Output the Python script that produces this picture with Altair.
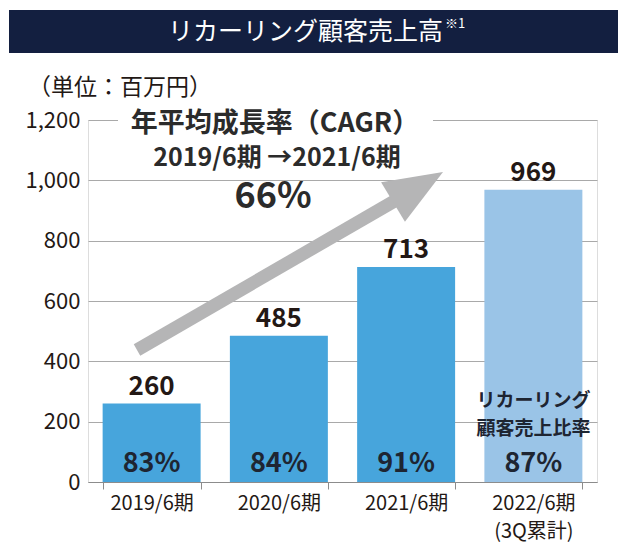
import altair as alt
import pandas as pd

# ---- data ----
periods = ["2019/6期", "2020/6期", "2021/6期", "2022/6期\n(3Q累計)"]
revenue = [260, 485, 713, 969]
ratio = ["83%", "84%", "91%", "87%"]
bar_colors = ["#47A5DC", "#47A5DC", "#47A5DC", "#9AC4E7"]
y_ticks = [0, 200, 400, 600, 800, 1000, 1200]

title_text = "リカーリング顧客売上高"
title_note = "※1"
unit_text = "（単位：百万円）"
cagr_lines = ["年平均成長率（CAGR）", "2019/6期 →2021/6期", "66%"]
ratio_caption = ["リカーリング", "顧客売上比率"]

df = pd.DataFrame({"period": periods, "revenue": revenue, "ratio": ratio, "color": bar_colors})
one = pd.DataFrame({"a": [0]})

NARROW = "Noto Sans CJK JP"
JP = "Noto Sans CJK JP"
TXT = "#231815"
DARK = "#1E2532"
GRID = "#A9A9A9"
ARROW = "#B5B5B6"
W, H = 509, 362

x_enc = alt.X(
    "period:N", sort=periods,
    scale=alt.Scale(paddingInner=0.23, paddingOuter=0.115),
    axis=alt.Axis(title=None, labelAngle=0, tickBand="extent",
                  labelExpr="split(datum.label, '\\n')",
                  labelFont=NARROW, labelFontSize=20, labelColor=TXT,
                  labelLineHeight=28, labelPadding=4,
                  tickSize=7, tickColor="#8C8C8C", domainColor="#8C8C8C"),
)
y_enc = alt.Y(
    "revenue:Q",
    scale=alt.Scale(domain=[0, 1200], nice=False),
    axis=alt.Axis(title=None, values=y_ticks, format=",d", domain=False, ticks=False,
                  labelPadding=8, labelFont=NARROW, labelFontSize=22, labelColor=TXT,
                  grid=True, gridColor=GRID, gridWidth=1),
)

base = alt.Chart(df)
bars = base.mark_bar().encode(x=x_enc, y=y_enc, color=alt.Color("color:N", scale=None))
vals = base.mark_text(baseline="bottom", dy=-4, font=NARROW, fontWeight="bold",
                      fontSize=26, color=TXT).encode(
    x=alt.X("period:N", sort=periods), y="revenue:Q", text="revenue:Q")
pcts = base.mark_text(baseline="alphabetic", dy=-10, font=NARROW, fontWeight="bold",
                      fontSize=27, color=DARK).encode(
    x=alt.X("period:N", sort=periods), y=alt.datum(0), text="ratio:N")

cap1 = alt.Chart(one).mark_text(baseline="middle", font=JP, fontWeight="bold",
                                fontSize=19, color=DARK).encode(
    x=alt.X(datum=periods[3]), y=alt.value(281), text=alt.value(ratio_caption[0]))
cap2 = alt.Chart(one).mark_text(baseline="middle", font=JP, fontWeight="bold",
                                fontSize=19, color=DARK).encode(
    x=alt.X(datum=periods[3]), y=alt.value(309), text=alt.value(ratio_caption[1]))

# arrow
shaft = alt.Chart(one).mark_rule(color=ARROW, strokeWidth=13, strokeCap="butt").encode(
    x=alt.value(49), y=alt.value(230), x2=alt.value(310), y2=alt.value(79))
head = alt.Chart(one).mark_point(shape="M0,-1L0.794,1L-0.794,1Z", filled=True, size=3400,
                                 angle=59, color=ARROW, opacity=1, strokeWidth=0).encode(
    x=alt.value(330), y=alt.value(67))

# white backing behind the CAGR heading
wbox = alt.Chart(one).mark_rect(color="white").encode(
    x=alt.value(30), x2=alt.value(345), y=alt.value(-8), y2=alt.value(8))

c1 = alt.Chart(one).mark_text(baseline="middle", font=JP, fontWeight="bold", fontSize=27,
                              color="#2B2B2B").encode(
    x=alt.value(187), y=alt.value(4), text=alt.value(cagr_lines[0]))
c2 = alt.Chart(one).mark_text(baseline="middle", font=JP, fontWeight="bold", fontSize=25,
                              color="#2B2B2B").encode(
    x=alt.value(189), y=alt.value(38), text=alt.value(cagr_lines[1]))
c3 = alt.Chart(one).mark_text(baseline="middle", font=JP, fontWeight="bold", fontSize=36,
                              color="#2B2B2B").encode(
    x=alt.value(185), y=alt.value(77), text=alt.value(cagr_lines[2]))

# title banner
banner = alt.Chart(one).mark_rect(color="#131F40").encode(
    x=alt.value(-79), x2=alt.value(530), y=alt.value(-110), y2=alt.value(-67))
t_main = alt.Chart(one).mark_text(align="right", baseline="middle", font=JP, fontSize=25,
                                  color="white").encode(
    x=alt.value(355), y=alt.value(-88), text=alt.value(title_text))
t_note = alt.Chart(one).mark_text(align="left", baseline="middle", font=JP, fontSize=13,
                                  color="white").encode(
    x=alt.value(357), y=alt.value(-96), text=alt.value(title_note))
unit = alt.Chart(one).mark_text(align="left", baseline="middle", font=JP, fontSize=23,
                                color=TXT).encode(
    x=alt.value(-60), y=alt.value(-32), text=alt.value(unit_text))

chart = alt.layer(
    bars, vals, pcts, cap1, cap2, shaft, head, wbox, c1, c2, c3, banner, t_main, t_note, unit
).properties(
    width=W, height=H,
    autosize=alt.AutoSizeParams(type="none"),
    padding={"left": 80, "top": 112, "right": 28, "bottom": 70},
).configure_view(stroke=None).configure(background="white")

chart.save("out.html", embed_options={"renderer": "svg", "actions": False})
